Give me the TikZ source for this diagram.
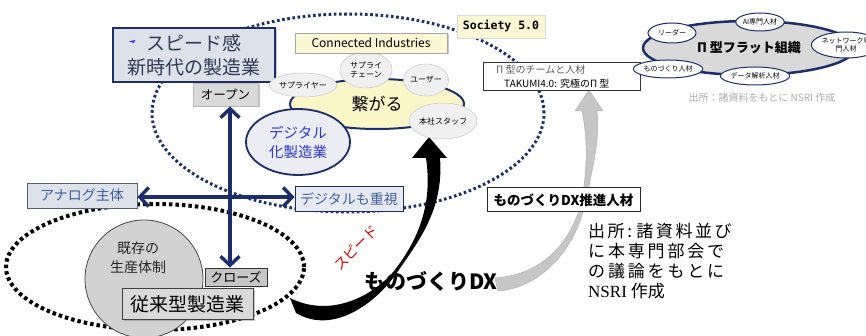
\documentclass[tikz,border=0pt]{standalone}
\usepackage{fontspec}
\setmainfont{Noto Sans CJK JP}
\newfontfamily\monof{DejaVu Sans Mono}
\newfontfamily\serifl{Liberation Serif}
\usetikzlibrary{shapes.geometric,arrows.meta,shadows}
\definecolor{navy}{HTML}{1B2D6B}
\definecolor{bluetxt}{HTML}{3F5F9E}
\definecolor{digblue}{HTML}{2B36D0}
\definecolor{spfill}{HTML}{DDE1EA}
\definecolor{sptext}{HTML}{2E3A55}
\definecolor{yel}{HTML}{FBF6C8}
\definecolor{yelbox}{HTML}{FAF7D4}
\newcommand\spl[1]{\makebox[136pt][s]{#1}}
\begin{document}
\begin{tikzpicture}[x=1pt,y=-1pt,
  box/.style={draw, rectangle, inner sep=0pt, align=center},
  shad/.style={drop shadow={shadow xshift=1.5pt, shadow yshift=-1.5pt, opacity=0.35, fill=black!60}},
  smallell/.style={ellipse, draw=gray!45, fill=gray!12, line width=0.5pt, inner sep=0pt, align=center, font=\fontsize{8}{9}\selectfont},
  teamell/.style={ellipse, draw=navy, fill=white, line width=1pt, inner sep=0pt, align=center, font=\fontsize{7}{8}\selectfont},
  navyarrow/.style={draw=navy, line width=3.4pt, {Straight Barb[length=9pt,width=19pt]}-{Straight Barb[length=9pt,width=19pt]}},
  updots/.style={draw=navy, line width=3pt, dash pattern=on 2.6pt off 2.6pt},
  lowdots/.style={draw=black, line width=4pt, dash pattern=on 3.5pt off 3pt}
]
\useasboundingbox (0,0) rectangle (866,336);
\fill[white] (0,0) rectangle (866,336);

% dotted ellipses
\draw[lowdots] (155,267) ellipse [x radius=149pt, y radius=63pt];
\draw[updots] (348,113) ellipse [x radius=196pt, y radius=99pt];

% connectors as coordinates
\coordinate (bkS) at (290,298);
\coordinate (bkT) at (429,137);
\coordinate (grS) at (495,278);
\coordinate (grT) at (589,90);

% big black arrow
\fill[black] (296,313) .. controls (335,336) and (378,300) .. (396,274)
  .. controls (418,242) and (444,210) .. (440,158) -- (447,158) -- (bkT) -- (412,158) -- (426,158)
  .. controls (433,205) and (418,240) .. (394,271)
  .. controls (372,297) and (330,318) .. (bkS) -- cycle;

% grey arrow
\filldraw[fill=gray!45, draw=gray!60, line width=0.5pt] (498,291) .. controls (540,288) and (576,250) .. (586,200)
  .. controls (593,165) and (600,140) .. (597,111) -- (603,111) -- (grT) -- (575,111) -- (582,111)
  .. controls (588,140) and (587,170) .. (582,200)
  .. controls (571,245) and (540,275) .. (grS) -- cycle;

% lower group
\node[circle, draw=gray!55!black, fill=gray!35, line width=0.8pt, minimum size=118pt, inner sep=0pt] (kizon) at (144,279) {};
\node[align=center, font=\fontsize{14}{19}\selectfont, text=black!85] (kizontxt) at (138,258) {既存の\\生産体制};
\node[box, fill=gray!45, draw=gray!40!black, line width=0.8pt, minimum width=62pt, minimum height=18pt, font=\fontsize{13}{14}\selectfont] (close) at (236,277) {クローズ};
\node[box, fill=gray!30, draw=gray!50!black, line width=1pt, minimum width=131pt, minimum height=31pt, font=\fontsize{19}{22}\selectfont, shad] (juurai) at (187.5,304) {従来型製造業};

% left boxes
\node[box, fill=spfill, draw=navy, line width=1.3pt, minimum width=162pt, minimum height=54pt, text=sptext, font=\fontsize{19}{24}\selectfont, shad] (speed) at (194,55) {スピード感\\新時代の製造業};
\fill[blue!80] (129,41.5) -- (135,40) -- (134,43) -- cycle;
\node[box, fill=gray!30, draw=gray!55, line width=0.8pt, minimum width=65pt, minimum height=23pt, font=\fontsize{12.5}{14}\selectfont, shad] (open) at (225.5,94.5) {オープン};
\node[box, fill=spfill, draw=gray!60!navy, line width=0.8pt, minimum width=110pt, minimum height=25pt, text=bluetxt, font=\fontsize{14}{16}\selectfont] (analog) at (82,195.5) {アナログ主体};
\node[box, fill=spfill!70!white, draw=navy, line width=1pt, minimum width=108pt, minimum height=25pt, text=bluetxt, font=\fontsize{14}{16}\selectfont] (digi) at (349,199.5) {デジタルも重視};

% navy arrows
\coordinate (vx) at (230,0);
\coordinate (hy) at (0,197);
\draw[navyarrow] (open.south -| vx) -- (close.north -| vx);
\draw[navyarrow] (analog.east |- hy) -- (digi.west |- hy);

% connected cluster
\node[ellipse, draw=navy, line width=2pt, fill=yel, minimum width=174pt, minimum height=50pt, inner sep=0pt, font=\fontsize{17}{20}\selectfont] (tsuna) at (377,104) {\raisebox{-5pt}{繋がる}};
\node[smallell, minimum width=52pt, minimum height=24pt] (sup) at (303,85) {サプライヤー};
\node[smallell, minimum width=52pt, minimum height=36pt] (sc) at (366,70) {サプライ\\チェーン};
\node[smallell, minimum width=44pt, minimum height=32pt] (user) at (426,80) {ユーザー};
\node[smallell, minimum width=60pt, minimum height=36pt] (honsha) at (443,121) {本社スタッフ};
\node[ellipse, draw=navy, line width=1.8pt, fill=spfill!60!white, minimum width=104pt, minimum height=66pt, inner sep=0pt, align=center, text=digblue, font=\fontsize{14.5}{19}\selectfont] (dig) at (298,142) {デジタル\\化製造業};
\node[box, fill=yelbox, draw=gray!70, line width=0.8pt, minimum width=152pt, minimum height=20pt, font=\fontsize{12}{14}\selectfont, shad] (ci) at (371,43) {Connected Industries};
\node[box, fill=yelbox, draw=gray!30, line width=0.8pt, minimum width=88pt, minimum height=23pt, font=\monof\bfseries\fontsize{11.5}{13}\selectfont] (soc) at (501,26.5) {Society 5.0};

% right boxes
\node[box, fill=white, draw=gray!40!black, line width=0.8pt, minimum width=157pt, minimum height=28pt] (tak) at (561.5,76) {};
\node[anchor=west, inner sep=0pt, font=\fontsize{10}{12}\selectfont, text=gray!70!black] (tak1) at (496,69.5) {Π 型のチームと人材};
\node[anchor=west, inner sep=0pt, font=\fontsize{10}{12}\selectfont] (tak2) at (504,83.5) {TAKUMI4.0: 究極のΠ 型};
\node[box, fill=white, draw=gray!30!black, line width=1pt, minimum width=153pt, minimum height=24pt, font=\bfseries\fontsize{13.5}{15}\selectfont] (dxp) at (563.5,200) {ものづくりDX推進人材};

% texts
\node[font=\bfseries\fontsize{21}{24}\selectfont] (dx) at (431,281) {ものづくりDX};
\node[rotate=45, inner sep=0pt, text=red!85!black, font=\fontsize{14}{16}\selectfont] (spd) at (356,248) {スピード};
\node[align=left, anchor=north west, inner sep=0pt, font=\fontsize{17}{20}\selectfont] (src) at (588,223) {\spl{出 所 : 諸 資 料 並 び}\\\spl{に 本 専 門 部 会 で}\\\spl{の 議 論 を も と に}\\{\serifl NSRI} 作成};

% top-right organisation
\node[ellipse, draw=navy, line width=2.5pt, fill=gray!30, minimum width=212pt, minimum height=54pt, inner sep=0pt, font=\bfseries\fontsize{13}{15}\selectfont] (flat) at (749,48) {Π 型フラット組織};
\node[teamell, minimum width=48pt, minimum height=20pt] (lead) at (672,33) {リーダー};
\node[teamell, minimum width=46pt, minimum height=18pt] (ai) at (760,22) {AI専門人材};
\node[teamell, minimum width=42pt, minimum height=26pt] (net) at (846,45) {ネットワーク専\\門人材};
\node[teamell, minimum width=50pt, minimum height=18pt] (mono) at (668,69) {ものづくり人材};
\node[teamell, minimum width=54pt, minimum height=18pt] (data) at (755,76) {データ解析人材};
\node[text=gray!65, font=\fontsize{10}{12}\selectfont] (cap) at (762,98) {出所：諸資料をもとに NSRI 作成};
\end{tikzpicture}
\end{document}
